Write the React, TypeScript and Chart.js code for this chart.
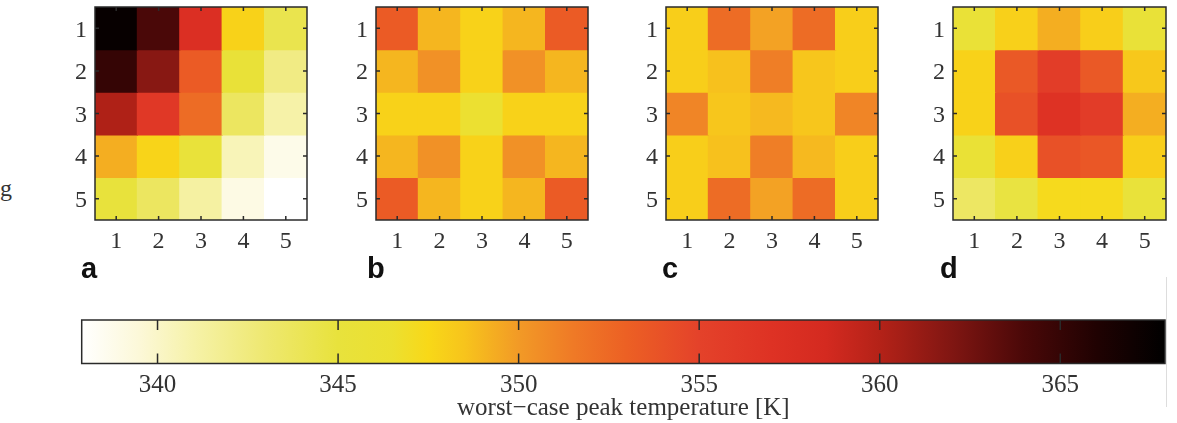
import React, { useEffect, useRef } from 'react';
import { Chart, registerables } from 'chart.js';

Chart.register(...registerables);
Chart.defaults.font.family = "'Liberation Serif', 'Times New Roman', serif";

// ---------- data ----------
const ROW_LABELS = ['1', '2', '3', '4', '5'];
const COL_LABELS = ['1', '2', '3', '4', '5'];
const PANEL_NAMES = ['a', 'b', 'c', 'd'];

// worst-case peak temperature [K], rows top→bottom, columns left→right
const PANEL_A = [
  [367.5, 364.0, 357.5, 347.8, 344.3],
  [365.0, 361.7, 353.3, 345.5, 342.3],
  [360.2, 356.3, 352.3, 343.6, 341.0],
  [349.3, 347.7, 345.3, 340.5, 338.8],
  [345.0, 343.6, 341.2, 339.0, 337.9],
];
const PANEL_B = [
  [353.3, 349.0, 347.8, 349.0, 353.3],
  [349.0, 350.4, 347.8, 350.4, 349.0],
  [347.8, 347.8, 346.4, 347.8, 347.8],
  [349.0, 350.4, 347.8, 350.4, 349.0],
  [353.3, 349.0, 347.8, 349.0, 353.3],
];
const PANEL_C = [
  [348.0, 352.3, 349.7, 352.3, 348.0],
  [348.0, 348.6, 351.3, 348.4, 348.0],
  [351.0, 348.4, 348.9, 348.4, 351.0],
  [348.0, 348.6, 351.3, 348.9, 348.0],
  [348.0, 352.3, 349.7, 352.3, 348.0],
];
const PANEL_D = [
  [345.6, 347.9, 349.3, 348.0, 345.5],
  [347.8, 353.5, 355.6, 353.5, 348.3],
  [347.8, 354.0, 357.0, 355.8, 349.3],
  [345.8, 347.9, 354.0, 353.6, 348.0],
  [343.5, 344.8, 347.3, 347.3, 345.2],
];
const PANELS = [PANEL_A, PANEL_B, PANEL_C, PANEL_D];

const CB_MIN = 337.9;
const CB_MAX = 367.9;
const CB_TICKS = [340, 345, 350, 355, 360, 365];
const CB_LABEL = 'worst\u2212case peak temperature [K]';

// colormap stops: [value, colour]
const CMAP: [number, string][] = [
  [337.9, '#ffffff'],
  [339.5, '#fcf8d8'],
  [341.0, '#f6f2a8'],
  [343.0, '#eee870'],
  [345.0, '#e8e23c'],
  [346.5, '#ece030'],
  [347.5, '#f8d818'],
  [348.5, '#f7c41c'],
  [350.0, '#f29a26'],
  [351.5, '#ef7a26'],
  [353.0, '#ec6024'],
  [355.0, '#e4422a'],
  [357.0, '#de3224'],
  [358.5, '#d42a20'],
  [360.0, '#b42218'],
  [362.0, '#801612'],
  [364.0, '#4a0808'],
  [366.0, '#200202'],
  [367.9, '#000000'],
];

// ---------- layout (positions only) ----------
const PANEL_LEFT = [95, 376, 666, 953];
const PANEL_W = [212, 212, 212, 213];
const PANEL_TOP = 7;
const AXIS_W = 40;
const AXIS_H = 40;
const LETTER_X = [81, 367, 662, 940];

const TEXT_COLOR = '#333333';
const FRAME_COLOR = '#2a2a2a';

function hexToRgb(h: string) {
  const n = parseInt(h.slice(1), 16);
  return [(n >> 16) & 255, (n >> 8) & 255, n & 255];
}
function colorFor(v: number): string {
  if (v <= CMAP[0][0]) return CMAP[0][1];
  for (let i = 1; i < CMAP.length; i++) {
    if (v <= CMAP[i][0]) {
      const [v0, c0] = CMAP[i - 1];
      const [v1, c1] = CMAP[i];
      const t = (v - v0) / (v1 - v0);
      const a = hexToRgb(c0);
      const b = hexToRgb(c1);
      const r = a.map((x, k) => Math.round(x + (b[k] - x) * t));
      return `rgb(${r[0]},${r[1]},${r[2]})`;
    }
  }
  return CMAP[CMAP.length - 1][1];
}

function framePlugin(tickLen: number, withY: boolean) {
  return {
    id: 'frame',
    afterDatasetsDraw(chart: any) {
      const { ctx, chartArea, scales } = chart;
      const { left, right, top, bottom } = chartArea;
      ctx.save();
      ctx.strokeStyle = FRAME_COLOR;
      ctx.lineWidth = 1.5;
      ctx.beginPath();
      scales.x.ticks.forEach((_: any, i: number) => {
        const px = scales.x.getPixelForTick(i);
        ctx.moveTo(px, top);
        ctx.lineTo(px, top + tickLen);
        ctx.moveTo(px, bottom);
        ctx.lineTo(px, bottom - tickLen);
      });
      if (withY) {
        scales.y.ticks.forEach((_: any, i: number) => {
          const py = scales.y.getPixelForTick(i);
          ctx.moveTo(left, py);
          ctx.lineTo(left + tickLen, py);
          ctx.moveTo(right, py);
          ctx.lineTo(right - tickLen, py);
        });
      }
      ctx.stroke();
      ctx.strokeRect(left, top, right - left, bottom - top);
      ctx.restore();
    },
  };
}

const tickFont = { size: 24, family: "'Liberation Serif', 'Times New Roman', serif" };
const zeroPad = (s: any) => {
  s.paddingTop = 0;
  s.paddingBottom = 0;
  s.paddingLeft = 0;
  s.paddingRight = 0;
};

function Heatmap({ values, index }: { values: number[][]; index: number }) {
  const ref = useRef<HTMLCanvasElement>(null);
  const width = AXIS_W + PANEL_W[index] + 13;
  const height = 260;
  useEffect(() => {
    if (!ref.current) return;
    const datasets = ROW_LABELS.map((r, ri) => ({
      label: 'row ' + r,
      data: values[ri].map(() => [ri + 0.5, ri + 1.5]),
      backgroundColor: values[ri].map(colorFor),
      borderWidth: 0,
      inflateAmount: 0.6,
      barPercentage: 1,
      categoryPercentage: 1,
      grouped: false,
    }));
    const chart = new Chart(ref.current, {
      type: 'bar',
      data: { labels: COL_LABELS, datasets: datasets as any },
      options: {
        animation: false,
        responsive: false,
        devicePixelRatio: 1,
        layout: { padding: { left: 0, right: 13, top: PANEL_TOP, bottom: 0 } },
        plugins: { legend: { display: false }, tooltip: { enabled: false } },
        scales: {
          x: {
            type: 'category',
            offset: true,
            grid: { display: false, drawTicks: false },
            border: { display: false },
            ticks: { font: tickFont, color: TEXT_COLOR, padding: 7, maxRotation: 0, autoSkip: false },
            afterFit: (s: any) => {
              zeroPad(s);
              s.height = AXIS_H;
            },
          },
          y: {
            type: 'linear',
            min: 0.5,
            max: 5.5,
            reverse: true,
            grid: { display: false, drawTicks: false },
            border: { display: false },
            ticks: {
              font: tickFont,
              color: TEXT_COLOR,
              padding: 8,
              labelOffset: 2,
              callback: (v: any) => ROW_LABELS[Number(v) - 1],
            },
            afterBuildTicks: (s: any) => {
              s.ticks = ROW_LABELS.map((_, i) => ({ value: i + 1 }));
            },
            afterFit: (s: any) => {
              zeroPad(s);
              s.width = AXIS_W;
            },
          },
        },
      } as any,
      plugins: [framePlugin(4, true)],
    });
    return () => chart.destroy();
  }, [values, index]);
  return (
    <canvas
      ref={ref}
      width={width}
      height={height}
      style={{ position: 'absolute', left: PANEL_LEFT[index] - AXIS_W, top: 0, width, height }}
    />
  );
}

function ColorBar() {
  const ref = useRef<HTMLCanvasElement>(null);
  const left = 40;
  const top = 300;
  const width = 1137;
  const height = 123;
  useEffect(() => {
    if (!ref.current) return;
    const chart = new Chart(ref.current, {
      type: 'bar',
      data: {
        labels: [''],
        datasets: [
          {
            label: 'colorbar',
            data: [[CB_MIN, CB_MAX]] as any,
            backgroundColor: (c: any) => {
              const ch = c.chart;
              const { chartArea, scales } = ch;
              if (!chartArea) return '#ffffff';
              const x0 = scales.x.getPixelForValue(CB_MIN);
              const x1 = scales.x.getPixelForValue(CB_MAX);
              const g = ch.ctx.createLinearGradient(x0, 0, x1, 0);
              CMAP.forEach(([v, col]) => g.addColorStop((v - CB_MIN) / (CB_MAX - CB_MIN), col));
              return g;
            },
            borderWidth: 0,
            barPercentage: 1,
            categoryPercentage: 1,
          },
        ],
      },
      options: {
        indexAxis: 'y',
        animation: false,
        responsive: false,
        devicePixelRatio: 1,
        layout: { padding: { left: 41.7, right: 12, top: 20, bottom: 0 } },
        plugins: { legend: { display: false }, tooltip: { enabled: false } },
        scales: {
          x: {
            type: 'linear',
            min: CB_MIN,
            max: CB_MAX,
            grid: { display: false, drawTicks: false },
            border: { display: false },
            ticks: { font: { ...tickFont, size: 25 }, color: TEXT_COLOR, padding: 7, maxRotation: 0 },
            afterBuildTicks: (s: any) => {
              s.ticks = CB_TICKS.map((v) => ({ value: v }));
            },
            title: {
              display: true,
              text: CB_LABEL,
              color: TEXT_COLOR,
              font: { ...tickFont, size: 25 },
              padding: { top: 0, bottom: 0 },
            },
            afterFit: (s: any) => {
              zeroPad(s);
              s.height = 59.5;
            },
          },
          y: { display: false },
        },
      } as any,
      plugins: [framePlugin(10, false)],
    });
    return () => chart.destroy();
  }, []);
  return (
    <canvas
      ref={ref}
      width={width}
      height={height}
      style={{ position: 'absolute', left, top, width, height }}
    />
  );
}

export default function App() {
  return (
    <div
      style={{
        position: 'absolute',
        left: 0,
        top: 0,
        width: 1177,
        height: 423,
        background: '#ffffff',
        overflow: 'hidden',
      }}
    >
      <div
        style={{
          position: 'absolute',
          left: 0,
          top: 174.6,
          font: "24px 'Liberation Serif', serif",
          color: TEXT_COLOR,
          whiteSpace: 'nowrap',
        }}
      >
        g
      </div>
      {PANELS.map((p, i) => (
        <Heatmap key={i} values={p} index={i} />
      ))}
      {PANEL_NAMES.map((n, i) => (
        <div
          key={n}
          style={{
            position: 'absolute',
            left: LETTER_X[i],
            top: 251.8,
            font: "bold 29px 'Liberation Sans', Arial, sans-serif",
            color: '#111111',
          }}
        >
          {n}
        </div>
      ))}
      <ColorBar />
      <div
        style={{
          position: 'absolute',
          left: 1166,
          top: 277,
          width: 1,
          height: 130,
          background: '#dddddd',
        }}
      />
    </div>
  );
}
